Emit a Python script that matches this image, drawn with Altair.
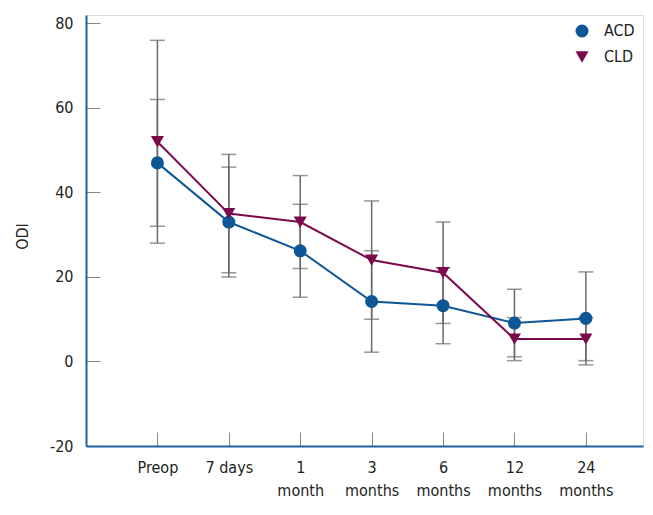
import json
import altair as alt
import pandas as pd

# ---- data ----
timepoints = ["Preop", "7 days", "1 month", "3 months", "6 months", "12 months", "24 months"]
tick_labels = [["Preop"], ["7 days"], ["1", "month"], ["3", "months"],
               ["6", "months"], ["12", "months"], ["24", "months"]]
groups = ["ACD", "CLD"]
acd_mean = [47.0, 33.0, 26.2, 14.2, 13.2, 9.1, 10.2]
acd_sd = [15.0, 13.0, 11.0, 12.0, 9.0, 8.0, 11.0]
cld_mean = [52.0, 35.0, 33.0, 24.0, 21.0, 5.3, 5.3]
cld_sd = [24.0, 14.0, 11.0, 14.0, 12.0, 5.1, 5.1]
y_ticks = [-20, 0, 20, 40, 60, 80]

# ---- styles ----
colors = ["#0d5797", "#7b0a4c"]
shapes = ["circle", "triangle-down"]
axis_blue = "#1f61a1"
err_gray = "#6a6a6a"
FONT = "DejaVu Sans Condensed"
FS = 16

rows = []
for g, means, sds in (("ACD", acd_mean, acd_sd), ("CLD", cld_mean, cld_sd)):
    for i, (m, s) in enumerate(zip(means, sds)):
        rows.append({"idx": i, "time": timepoints[i], "group": g,
                     "mean": m, "lo": m - s, "hi": m + s})
df = pd.DataFrame(rows)

label_expr = json.dumps(tick_labels) + "[datum.value]"

xscale = alt.Scale(domain=[-1, 6.8], nice=False, zero=False)
yscale = alt.Scale(domain=[-20, 82], nice=False, zero=False)

x_enc = alt.X("idx:Q", scale=xscale, axis=alt.Axis(
    values=list(range(len(timepoints))), labelExpr=label_expr, title=None,
    grid=False, domainColor=axis_blue, domainWidth=2,
    tickColor="#8a8a8a", tickWidth=1, tickSize=alt.ExprRef(expr="-14"),
    labelPadding=27, labelFontSize=FS, labelFont=FONT, labelColor="#222",
    labelLineHeight=23, labelBaseline="top"))
y_enc = alt.Y("mean:Q", scale=yscale, axis=alt.Axis(
    values=y_ticks, labelExpr="'' + datum.value", title="ODI", grid=False,
    domainColor=axis_blue, domainWidth=2,
    tickColor={"condition": {"test": "datum.value === -20", "value": "transparent"},
               "value": "#8a8a8a"},
    tickWidth=1, tickSize=alt.ExprRef(expr="-14"),
    labelPadding=27, labelFontSize=FS, labelFont=FONT, labelColor="#222",
    titleFont=FONT, titleFontSize=FS, titleFontWeight="normal", titleColor="#222",
    titleX=-64, titleY=221, titleBaseline="middle", titleAngle=270))

base = alt.Chart(df)

err_rule = base.mark_rule(color=err_gray, strokeWidth=1.5).encode(
    x=x_enc, y=alt.Y("lo:Q", scale=yscale), y2="hi:Q")
cap_lo = base.mark_tick(color=err_gray, thickness=1.5, size=15, orient="horizontal").encode(
    x=alt.X("idx:Q", scale=xscale), y=alt.Y("lo:Q", scale=yscale))
cap_hi = base.mark_tick(color=err_gray, thickness=1.5, size=15, orient="horizontal").encode(
    x=alt.X("idx:Q", scale=xscale), y=alt.Y("hi:Q", scale=yscale))

line_acd = base.transform_filter(alt.datum.group == "ACD").mark_line(
    strokeWidth=2, color=colors[0]).encode(x=alt.X("idx:Q", scale=xscale), y=y_enc)
line_cld = base.transform_filter(alt.datum.group == "CLD").mark_line(
    strokeWidth=2, color=colors[1]).encode(x=alt.X("idx:Q", scale=xscale), y=y_enc)

leg = alt.Legend(title=None, orient="top-right", offset=8,
                 labelFont=FONT, labelFontSize=FS, labelColor="#222",
                 symbolSize=169, labelOffset=14, rowPadding=10, padding=0)
points = base.mark_point(filled=True, size=170, opacity=1).encode(
    x=alt.X("idx:Q", scale=xscale), y=alt.Y("mean:Q", scale=yscale),
    color=alt.Color("group:N", scale=alt.Scale(domain=groups, range=colors), legend=leg),
    shape=alt.Shape("group:N", scale=alt.Scale(domain=groups, range=shapes), legend=leg))

chart = alt.layer(err_rule, cap_lo, cap_hi, line_acd, line_cld, points).properties(
    width=557, height=431,
    autosize=alt.AutoSizeParams(type="none"),
    padding={"left": 78, "top": 7, "right": 2, "bottom": 60},
).configure_view(stroke=None).configure(background="white")

chart.save("out.html", embed_options={"renderer": "svg", "actions": False})
